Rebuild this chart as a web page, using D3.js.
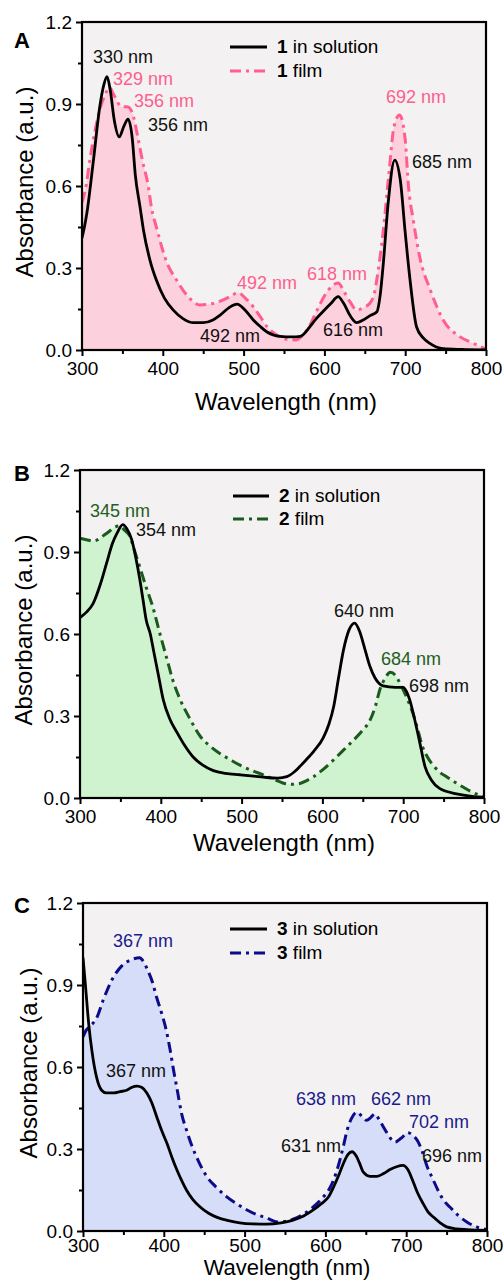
<!DOCTYPE html>
<html><head><meta charset="utf-8">
<script src="https://cdn.jsdelivr.net/npm/d3@7"></script>
<style>body{margin:0;background:#fff}svg{display:block;font-family:"Liberation Sans",Arial,sans-serif}</style>
</head><body><svg id="c" width="503" height="1280"></svg>
<script>
// ---------- data ----------
const xTicks = [300, 400, 500, 600, 700, 800];
const xMinor = [350, 450, 550, 650, 750];
const yTicks = [0.0, 0.3, 0.6, 0.9, 1.2];
const yMinor = [0.15, 0.45, 0.75, 1.05];

const solA = [[300,0.41],[303,0.45],[306,0.5],[314,0.69],[322,0.89],[327,0.97],[331,1.0],[335,0.95],[340,0.84],[346,0.78],[352,0.82],[357,0.845],[362,0.78],[366,0.64],[372,0.52],[376,0.44],[384,0.33],[392,0.256],[402,0.19],[413,0.146],[425,0.115],[438,0.10],[450,0.10],[462,0.11],[471,0.128],[482,0.155],[492,0.168],[502,0.145],[512,0.11],[521,0.085],[529,0.066],[545,0.05],[560,0.048],[570,0.05],[582,0.085],[590,0.115],[598,0.14],[608,0.17],[617,0.195],[624,0.17],[632,0.125],[640,0.10],[648,0.11],[656,0.125],[665,0.14],[669,0.2],[673,0.32],[679,0.54],[687,0.695],[694,0.62],[700,0.43],[706,0.256],[714,0.085],[722,0.045],[730,0.025],[747,0.005],[770,0.002],[800,0]];
const filmA = [[300,0.54],[305,0.6],[310,0.7],[316,0.80],[322,0.88],[328,0.93],[334,0.96],[340,0.93],[349,0.89],[356,0.89],[362,0.87],[369,0.78],[375,0.69],[382,0.6],[386,0.52],[392,0.45],[405,0.32],[417,0.256],[430,0.20],[446,0.165],[462,0.17],[483,0.195],[493,0.21],[502,0.19],[512,0.158],[521,0.12],[529,0.085],[541,0.055],[552,0.04],[565,0.037],[575,0.06],[582,0.09],[590,0.14],[605,0.22],[617,0.245],[625,0.21],[632,0.175],[640,0.146],[648,0.155],[656,0.17],[662,0.21],[666,0.28],[673,0.44],[680,0.65],[686,0.815],[693,0.86],[700,0.77],[704,0.6],[710,0.475],[718,0.34],[731,0.22],[747,0.11],[768,0.048],[784,0.025],[800,0.003]];

const solB = [[300,0.66],[308,0.68],[316,0.71],[325,0.78],[333,0.86],[340,0.93],[346,0.97],[353,1.0],[358,0.985],[364,0.945],[369,0.88],[374,0.80],[378,0.725],[382,0.65],[387,0.6],[391,0.54],[397,0.45],[403,0.36],[411,0.29],[420,0.24],[430,0.19],[440,0.15],[452,0.12],[465,0.10],[480,0.09],[498,0.085],[515,0.08],[531,0.075],[545,0.073],[556,0.078],[565,0.095],[572,0.115],[580,0.14],[589,0.17],[601,0.22],[608,0.27],[614,0.335],[620,0.44],[626,0.54],[633,0.615],[640,0.64],[646,0.61],[653,0.54],[659,0.48],[665,0.44],[670,0.42],[675,0.41],[690,0.405],[700,0.405],[704,0.39],[708,0.36],[714,0.29],[720,0.21],[727,0.115],[735,0.065],[745,0.035],[766,0.015],[785,0.006],[800,0.003]];
const filmB = [[300,0.95],[308,0.945],[316,0.94],[322,0.945],[329,0.96],[336,0.975],[342,0.99],[349,0.995],[355,0.98],[362,0.955],[368,0.9],[374,0.845],[382,0.77],[389,0.71],[399,0.60],[407,0.515],[415,0.43],[424,0.36],[436,0.29],[449,0.225],[461,0.19],[473,0.163],[486,0.14],[498,0.12],[513,0.1],[527,0.085],[540,0.068],[551,0.055],[562,0.05],[572,0.053],[580,0.063],[589,0.078],[601,0.105],[614,0.14],[626,0.175],[638,0.21],[649,0.245],[659,0.285],[666,0.34],[671,0.395],[678,0.44],[684,0.46],[690,0.45],[696,0.42],[704,0.37],[712,0.31],[718,0.25],[724,0.187],[730,0.15],[737,0.12],[745,0.095],[754,0.077],[764,0.058],[774,0.04],[785,0.022],[795,0.01],[800,0.005]];

const solC = [[300,1.0],[303,0.9],[307,0.76],[311,0.66],[317,0.56],[323,0.515],[329,0.505],[338,0.505],[346,0.51],[354,0.515],[360,0.525],[367,0.53],[373,0.525],[379,0.505],[385,0.47],[391,0.42],[397,0.37],[404,0.32],[410,0.27],[416,0.225],[422,0.185],[428,0.15],[436,0.115],[445,0.088],[455,0.066],[466,0.05],[480,0.038],[494,0.03],[510,0.026],[527,0.025],[545,0.03],[560,0.04],[573,0.055],[585,0.077],[595,0.1],[604,0.125],[610,0.16],[616,0.2],[622,0.245],[628,0.28],[633,0.29],[638,0.275],[642,0.25],[647,0.215],[655,0.2],[664,0.2],[672,0.21],[680,0.225],[688,0.235],[696,0.24],[702,0.225],[708,0.185],[714,0.14],[721,0.1],[727,0.07],[734,0.05],[742,0.03],[750,0.015],[762,0.008],[775,0.005],[800,0.002]];
const filmC = [[300,0.71],[304,0.735],[309,0.75],[317,0.78],[325,0.845],[336,0.92],[348,0.97],[362,0.995],[370,1.0],[375,0.985],[380,0.955],[386,0.91],[391,0.856],[397,0.8],[403,0.735],[408,0.66],[412,0.59],[417,0.51],[422,0.43],[428,0.37],[435,0.31],[443,0.255],[453,0.2],[465,0.16],[478,0.125],[490,0.1],[503,0.077],[515,0.06],[527,0.048],[541,0.033],[550,0.035],[560,0.043],[572,0.06],[585,0.088],[596,0.12],[606,0.16],[613,0.21],[618,0.26],[623,0.32],[627,0.37],[632,0.41],[639,0.435],[645,0.42],[651,0.405],[656,0.415],[661,0.428],[668,0.4],[676,0.36],[686,0.325],[694,0.34],[702,0.36],[708,0.35],[714,0.33],[720,0.29],[726,0.235],[733,0.19],[740,0.145],[747,0.11],[755,0.085],[765,0.055],[775,0.033],[787,0.015],[800,0.005]];

const letters = ["A", "B", "C"];
const compounds = ["1", "2", "3"];
const labelsA = ["330 nm","329 nm","356 nm","356 nm","692 nm","685 nm","492 nm","618 nm","492 nm","616 nm"];
const seriesA = ["s","f","f","s","f","s","f","f","s","s"];
const labelsB = ["345 nm","354 nm","640 nm","684 nm","698 nm"];
const seriesB = ["f","s","s","f","s"];
const labelsC = ["367 nm","367 nm","638 nm","662 nm","702 nm","631 nm","696 nm"];
const seriesC = ["f","s","f","f","f","s","s"];

// ---------- layout / style ----------
const layout = [
  {x0:82, x1:486, y0:22, y1:350, title:410, tsize:24, tpad:6, ytitle:33, letterY:48, leg:[230,267,47,71,277], sol:solA, film:filmA,
   fill:"#fdd0de", line:"#ff5e8e", txt:"#ff5e8e", dash:"11,5,3,5", labels:labelsA, series:seriesA,
   pos:[[93,63],[113,85],[134,107],[148,131],[386,103],[412,168],[237,289],[307,280],[200,342],[323,336]]},
  {x0:80, x1:484, y0:470, y1:798, title:851, tsize:24, tpad:6, ytitle:32, letterY:481, leg:[233,269,496,519,279], sol:solB, film:filmB,
   fill:"#cff2cf", line:"#1a5a1c", txt:"#1f5f1f", dash:"11,5,3,5", labels:labelsB, series:seriesB,
   pos:[[90,517],[136,536],[334,617],[381,665],[409,692]]},
  {x0:83, x1:487, y0:903, y1:1231, title:1275, tsize:22, tpad:2, ytitle:37, letterY:913, leg:[230,267,929,953,277], sol:solC, film:filmC,
   fill:"#d6ddf8", line:"#0c0c8a", txt:"#1a1a8c", dash:"11,5,3,5", labels:labelsC, series:seriesC,
   pos:[[113,947],[106,1077],[296,1105],[371,1105],[409,1128],[281,1152],[422,1162]]}
];

const svg = d3.select("#c");
const FONT = "'Liberation Sans', Arial, sans-serif";

layout.forEach((L, i) => {
  const x = d3.scaleLinear().domain([300, 800]).range([L.x0, L.x1]);
  const y = d3.scaleLinear().domain([0, 1.2]).range([L.y1, L.y0]);
  const g = svg.append("g");
  const clipId = "clip" + i;
  svg.append("clipPath").attr("id", clipId).append("rect")
    .attr("x", L.x0).attr("y", L.y0).attr("width", L.x1 - L.x0).attr("height", L.y1 - L.y0);

  g.append("rect").attr("x", L.x0).attr("y", L.y0).attr("width", L.x1 - L.x0).attr("height", L.y1 - L.y0)
    .attr("fill", "#f3f1f1");

  const area = d3.area().x(d => x(d[0])).y0(y(0)).y1(d => y(d[1])).curve(d3.curveMonotoneX);
  const line = d3.line().x(d => x(d[0])).y(d => y(d[1])).curve(d3.curveMonotoneX);
  const pg = g.append("g").attr("clip-path", `url(#${clipId})`);
  pg.append("path").attr("d", area(L.film)).attr("fill", L.fill);
  pg.append("path").attr("d", line(L.film)).attr("fill", "none").attr("stroke", L.line)
    .attr("stroke-width", 3).attr("stroke-dasharray", L.dash);
  pg.append("path").attr("d", line(L.sol)).attr("fill", "none").attr("stroke", "#000").attr("stroke-width", 2.8);

  const xa = g.append("g").attr("transform", `translate(0,${L.y1})`)
    .call(d3.axisBottom(x).tickValues(xTicks).tickSize(6).tickPadding(L.tpad).tickFormat(d3.format("d")));
  const xm = g.append("g").attr("transform", `translate(0,${L.y1})`)
    .call(d3.axisBottom(x).tickValues(xMinor).tickSize(4).tickFormat(""));
  const ya = g.append("g").attr("transform", `translate(${L.x0},0)`)
    .call(d3.axisLeft(y).tickValues(yTicks).tickSize(6).tickPadding(4).tickFormat(d3.format(".1f")));
  const ym = g.append("g").attr("transform", `translate(${L.x0},0)`)
    .call(d3.axisLeft(y).tickValues(yMinor).tickSize(4).tickFormat(""));
  [xa, xm, ya, ym].forEach(a => {
    a.select(".domain").remove();
    a.selectAll("line").attr("stroke", "#000").attr("stroke-width", 2);
    a.selectAll("text").attr("font-size", 19).attr("font-family", FONT).attr("fill", "#000");
  });

  g.append("rect").attr("x", L.x0).attr("y", L.y0).attr("width", L.x1 - L.x0).attr("height", L.y1 - L.y0)
    .attr("fill", "none").attr("stroke", "#000").attr("stroke-width", 2.2);

  g.append("text").attr("x", (L.x0 + L.x1) / 2 + 2).attr("y", L.title).attr("text-anchor", "middle")
    .attr("font-size", L.tsize).attr("font-family", FONT).text("Wavelength (nm)");
  g.append("text").attr("transform", `translate(${L.ytitle},${(L.y0 + L.y1) / 2 - 4}) rotate(-90)`)
    .attr("text-anchor", "middle").attr("font-size", 24).attr("font-family", FONT).text("Absorbance (a.u.)");
  g.append("text").attr("x", 14).attr("y", L.letterY).attr("font-size", 22).attr("font-weight", "bold")
    .attr("font-family", FONT).text(letters[i]);

  const [lx0, lx1, ly0, ly1, tx] = L.leg;
  g.append("line").attr("x1", lx0).attr("x2", lx1).attr("y1", ly0).attr("y2", ly0).attr("stroke", "#000").attr("stroke-width", 3);
  g.append("line").attr("x1", lx0).attr("x2", lx1).attr("y1", ly1).attr("y2", ly1).attr("stroke", L.line)
    .attr("stroke-width", 3).attr("stroke-dasharray", L.dash);
  const t1 = g.append("text").attr("x", tx).attr("y", ly0 + 6).attr("font-size", 19).attr("font-family", FONT);
  t1.append("tspan").attr("font-weight", "bold").text(compounds[i]);
  t1.append("tspan").text(" in solution");
  const t2 = g.append("text").attr("x", tx).attr("y", ly1 + 6).attr("font-size", 19).attr("font-family", FONT);
  t2.append("tspan").attr("font-weight", "bold").text(compounds[i]);
  t2.append("tspan").text(" film");

  L.labels.forEach((lab, k) => {
    g.append("text").attr("x", L.pos[k][0]).attr("y", L.pos[k][1]).attr("font-size", 18).attr("font-family", FONT)
      .attr("fill", L.series[k] === "s" ? "#111" : L.txt).text(lab);
  });
});
</script></body></html>
